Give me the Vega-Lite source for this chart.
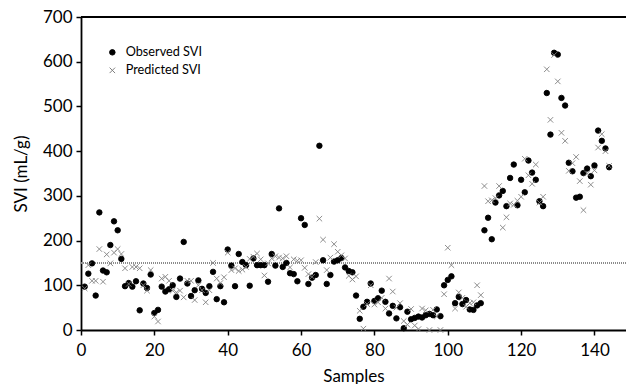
{
  "$schema": "https://vega.github.io/schema/vega-lite/v6.json",
  "autosize": "none",
  "width": 545,
  "height": 313,
  "padding": {"left": 81, "top": 17, "right": 0, "bottom": 54},
  "background": "white",
  "config": {
    "view": {"stroke": null},
    "font": "Lato",
    "axis": {"grid": false, "domainColor": "black", "domainWidth": 1.8, "tickColor": "black", "tickWidth": 1.5, "tickSize": 5, "labelFont": "Lato", "labelFontSize": 17, "labelColor": "black", "titleFont": "Lato", "titleFontSize": 17, "titleFontWeight": "normal", "titleColor": "black"},
    "legend": {"labelFont": "Lato", "labelFontSize": 12.7, "labelColor": "black"}
  },
  "data": {"values": [
    {"s":1,"Observed SVI":97,"Predicted SVI":93},{"s":2,"Observed SVI":126,"Predicted SVI":145},{"s":3,"Observed SVI":149,"Predicted SVI":110},{"s":4,"Observed SVI":77,"Predicted SVI":110},{"s":5,"Observed SVI":263,"Predicted SVI":181},{"s":6,"Observed SVI":133,"Predicted SVI":108},{"s":7,"Observed SVI":129,"Predicted SVI":169},{"s":8,"Observed SVI":190,"Predicted SVI":149},{"s":9,"Observed SVI":243,"Predicted SVI":173},{"s":10,"Observed SVI":223,"Predicted SVI":181},
    {"s":11,"Observed SVI":159,"Predicted SVI":170},{"s":12,"Observed SVI":98,"Predicted SVI":138},{"s":13,"Observed SVI":105,"Predicted SVI":103},{"s":14,"Observed SVI":97,"Predicted SVI":141},{"s":15,"Observed SVI":109,"Predicted SVI":141},{"s":16,"Observed SVI":44,"Predicted SVI":138},{"s":17,"Observed SVI":104,"Predicted SVI":100},{"s":18,"Observed SVI":94,"Predicted SVI":88},{"s":19,"Observed SVI":124,"Predicted SVI":134},{"s":20,"Observed SVI":38,"Predicted SVI":30},
    {"s":21,"Observed SVI":45,"Predicted SVI":19},{"s":22,"Observed SVI":97,"Predicted SVI":115},{"s":23,"Observed SVI":86,"Predicted SVI":119},{"s":24,"Observed SVI":91,"Predicted SVI":110},{"s":25,"Observed SVI":100,"Predicted SVI":88},{"s":26,"Observed SVI":74,"Predicted SVI":84},{"s":27,"Observed SVI":115,"Predicted SVI":88},{"s":28,"Observed SVI":197,"Predicted SVI":73},{"s":29,"Observed SVI":104,"Predicted SVI":110},{"s":30,"Observed SVI":76,"Predicted SVI":110},
    {"s":31,"Observed SVI":89,"Predicted SVI":67},{"s":32,"Observed SVI":111,"Predicted SVI":100},{"s":33,"Observed SVI":92,"Predicted SVI":89},{"s":34,"Observed SVI":83,"Predicted SVI":62},{"s":35,"Observed SVI":98,"Predicted SVI":89},{"s":36,"Observed SVI":130,"Predicted SVI":150},{"s":37,"Observed SVI":69,"Predicted SVI":115},{"s":38,"Observed SVI":98,"Predicted SVI":105},{"s":39,"Observed SVI":62,"Predicted SVI":118},{"s":40,"Observed SVI":180,"Predicted SVI":173},
    {"s":41,"Observed SVI":144,"Predicted SVI":134},{"s":42,"Observed SVI":98,"Predicted SVI":138},{"s":43,"Observed SVI":170,"Predicted SVI":132},{"s":44,"Observed SVI":152,"Predicted SVI":135},{"s":45,"Observed SVI":145,"Predicted SVI":141},{"s":46,"Observed SVI":99,"Predicted SVI":159},{"s":47,"Observed SVI":160,"Predicted SVI":164},{"s":48,"Observed SVI":145,"Predicted SVI":171},{"s":49,"Observed SVI":145,"Predicted SVI":158},{"s":50,"Observed SVI":145,"Predicted SVI":122},
    {"s":51,"Observed SVI":108,"Predicted SVI":149},{"s":52,"Observed SVI":170,"Predicted SVI":160},{"s":53,"Observed SVI":144,"Predicted SVI":165},{"s":54,"Observed SVI":272,"Predicted SVI":162},{"s":55,"Observed SVI":141,"Predicted SVI":160},{"s":56,"Observed SVI":150,"Predicted SVI":165},{"s":57,"Observed SVI":127,"Predicted SVI":140},{"s":58,"Observed SVI":125,"Predicted SVI":158},{"s":59,"Observed SVI":109,"Predicted SVI":155},{"s":60,"Observed SVI":250,"Predicted SVI":156},
    {"s":61,"Observed SVI":235,"Predicted SVI":139},{"s":62,"Observed SVI":103,"Predicted SVI":125},{"s":63,"Observed SVI":117,"Predicted SVI":119},{"s":64,"Observed SVI":123,"Predicted SVI":152},{"s":65,"Observed SVI":412,"Predicted SVI":249},{"s":66,"Observed SVI":156,"Predicted SVI":202},{"s":67,"Observed SVI":103,"Predicted SVI":134},{"s":68,"Observed SVI":123,"Predicted SVI":162},{"s":69,"Observed SVI":153,"Predicted SVI":192},{"s":70,"Observed SVI":156,"Predicted SVI":175},
    {"s":71,"Observed SVI":161,"Predicted SVI":167},{"s":72,"Observed SVI":140,"Predicted SVI":160},{"s":73,"Observed SVI":132,"Predicted SVI":121},{"s":74,"Observed SVI":129,"Predicted SVI":113},{"s":75,"Observed SVI":77,"Predicted SVI":120},{"s":76,"Observed SVI":25,"Predicted SVI":43},{"s":77,"Observed SVI":52,"Predicted SVI":3},{"s":78,"Observed SVI":63,"Predicted SVI":58},{"s":79,"Observed SVI":104,"Predicted SVI":100},{"s":80,"Observed SVI":65,"Predicted SVI":57},
    {"s":81,"Observed SVI":71,"Predicted SVI":62},{"s":82,"Observed SVI":88,"Predicted SVI":72},{"s":83,"Observed SVI":63,"Predicted SVI":48},{"s":84,"Observed SVI":37,"Predicted SVI":115},{"s":85,"Observed SVI":54,"Predicted SVI":86},{"s":86,"Observed SVI":26,"Predicted SVI":50},{"s":87,"Observed SVI":51,"Predicted SVI":60},{"s":88,"Observed SVI":4,"Predicted SVI":20},{"s":89,"Observed SVI":41,"Predicted SVI":12},{"s":90,"Observed SVI":24,"Predicted SVI":47},
    {"s":91,"Observed SVI":27,"Predicted SVI":10},{"s":92,"Observed SVI":30,"Predicted SVI":2},{"s":93,"Observed SVI":28,"Predicted SVI":48},{"s":94,"Observed SVI":33,"Predicted SVI":44},{"s":95,"Observed SVI":36,"Predicted SVI":0},{"s":96,"Observed SVI":33,"Predicted SVI":45},{"s":97,"Observed SVI":46,"Predicted SVI":30},{"s":98,"Observed SVI":31,"Predicted SVI":0},{"s":99,"Observed SVI":100,"Predicted SVI":80},{"s":100,"Observed SVI":112,"Predicted SVI":184},
    {"s":101,"Observed SVI":120,"Predicted SVI":145},{"s":102,"Observed SVI":60,"Predicted SVI":48},{"s":103,"Observed SVI":74,"Predicted SVI":84},{"s":104,"Observed SVI":58,"Predicted SVI":72},{"s":105,"Observed SVI":67,"Predicted SVI":52},{"s":106,"Observed SVI":46,"Predicted SVI":60},{"s":107,"Observed SVI":45,"Predicted SVI":62},{"s":108,"Observed SVI":55,"Predicted SVI":100},{"s":109,"Observed SVI":60,"Predicted SVI":78},{"s":110,"Observed SVI":223,"Predicted SVI":322},
    {"s":111,"Observed SVI":251,"Predicted SVI":288},{"s":112,"Observed SVI":203,"Predicted SVI":290},{"s":113,"Observed SVI":285,"Predicted SVI":295},{"s":114,"Observed SVI":301,"Predicted SVI":322},{"s":115,"Observed SVI":311,"Predicted SVI":229},{"s":116,"Observed SVI":277,"Predicted SVI":252},{"s":117,"Observed SVI":340,"Predicted SVI":283},{"s":118,"Observed SVI":370,"Predicted SVI":280},{"s":119,"Observed SVI":279,"Predicted SVI":289},{"s":120,"Observed SVI":336,"Predicted SVI":298},
    {"s":121,"Observed SVI":308,"Predicted SVI":383},{"s":122,"Observed SVI":379,"Predicted SVI":346},{"s":123,"Observed SVI":352,"Predicted SVI":327},{"s":124,"Observed SVI":336,"Predicted SVI":370},{"s":125,"Observed SVI":288,"Predicted SVI":285},{"s":126,"Observed SVI":277,"Predicted SVI":298},{"s":127,"Observed SVI":530,"Predicted SVI":583},{"s":128,"Observed SVI":437,"Predicted SVI":470},{"s":129,"Observed SVI":620,"Predicted SVI":615},{"s":130,"Observed SVI":616,"Predicted SVI":556},
    {"s":131,"Observed SVI":519,"Predicted SVI":441},{"s":132,"Observed SVI":502,"Predicted SVI":423},{"s":133,"Observed SVI":374,"Predicted SVI":356},{"s":134,"Observed SVI":355,"Predicted SVI":373},{"s":135,"Observed SVI":296,"Predicted SVI":387},{"s":136,"Observed SVI":298,"Predicted SVI":333},{"s":137,"Observed SVI":351,"Predicted SVI":268},{"s":138,"Observed SVI":361,"Predicted SVI":350},{"s":139,"Observed SVI":344,"Predicted SVI":325},{"s":140,"Observed SVI":368,"Predicted SVI":357},
    {"s":141,"Observed SVI":446,"Predicted SVI":408},{"s":142,"Observed SVI":423,"Predicted SVI":438},{"s":143,"Observed SVI":406,"Predicted SVI":400},{"s":144,"Observed SVI":364,"Predicted SVI":367}
  ]},
  "layer": [
    {
      "mark": {"type": "rule", "color": "#8c8c8c", "strokeWidth": 1, "strokeDash": [1, 1]},
      "encoding": {"y": {"datum": 150, "type": "quantitative"}}
    },
    {
      "mark": {"type": "rule", "color": "black", "strokeWidth": 1.5},
      "encoding": {"y": {"datum": 700, "type": "quantitative"}}
    },
    {
      "transform": [{"fold": ["Observed SVI", "Predicted SVI"], "as": ["series", "svi"]}],
      "mark": {"type": "point", "filled": false, "opacity": 1, "strokeWidth": 0.9},
      "encoding": {
        "x": {"field": "s", "type": "quantitative", "title": "Samples",
              "scale": {"domain": [0, 148.6], "nice": false, "zero": false},
              "axis": {"values": [0, 20, 40, 60, 80, 100, 120, 140], "labelPadding": 7, "titlePadding": 10, "labelFlush": false}},
        "y": {"field": "svi", "type": "quantitative", "title": "SVI (mL/g)",
              "scale": {"domain": [0, 700], "nice": false},
              "axis": {"values": [0, 100, 200, 300, 400, 500, 600, 700], "labelPadding": 4, "titlePadding": 12}},
        "shape": {"field": "series", "type": "nominal", "title": null,
                  "scale": {"domain": ["Observed SVI", "Predicted SVI"], "range": ["circle", "M-1,-1L1,1M-1,1L1,-1"]},
                  "legend": {"title": null, "orient": "none", "padding": 0, "legendX": 25, "legendY": 29, "symbolSize": 30, "rowPadding": 4, "labelOffset": 7, "symbolStrokeWidth": 1}},
        "fill": {"field": "series", "type": "nominal", "title": null,
                 "scale": {"domain": ["Observed SVI", "Predicted SVI"], "range": ["black", "transparent"]}},
        "stroke": {"field": "series", "type": "nominal", "title": null,
                   "scale": {"domain": ["Observed SVI", "Predicted SVI"], "range": ["black", "#808080"]}},
        "order": {"field": "series", "sort": "ascending"}
      }
    }
  ]
}
